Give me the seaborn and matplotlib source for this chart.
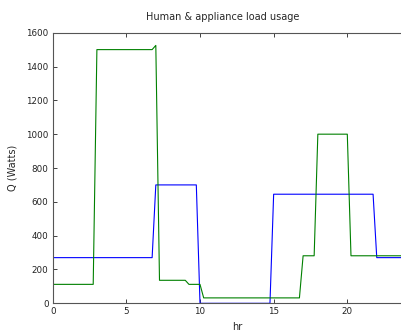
import matplotlib
matplotlib.use("Agg")
import matplotlib.pyplot as plt
import seaborn as sns
import pandas as pd

# Corner points of the hourly load profiles (hour, watts)
appliance_hr = [0, 2.75, 3.0, 6.75, 7.0, 7.25, 9.0, 9.25, 10.0, 10.25,
                16.75, 17.0, 17.75, 18.0, 20.0, 20.25, 23.75]
appliance_q = [112, 112, 1500, 1500, 1525, 136, 136, 112, 112, 32,
               32, 281, 281, 1000, 1000, 281, 281]

human_hr = [0, 6.75, 7.0, 9.75, 10.0, 14.75, 15.0, 21.75, 22.0, 23.75]
human_q = [270, 270, 700, 700, 0, 0, 645, 645, 270, 270]

x_ticks = [0, 5, 10, 15, 20]
y_ticks = [0, 200, 400, 600, 800, 1000, 1200, 1400, 1600]

df = pd.concat([
    pd.DataFrame({"hr": human_hr, "Q": human_q, "load": "human"}),
    pd.DataFrame({"hr": appliance_hr, "Q": appliance_q, "load": "appliance"}),
], ignore_index=True)

sns.set_style("ticks")
plt.rcParams["font.family"] = ["DejaVu Sans"]

W, H = 401, 335
fig = plt.figure(figsize=(W / 100, H / 100), dpi=100)
left, bottom = 52.7 / W, 31.7 / H
x_per_hr = 14.73
width = 25 * x_per_hr / W
height = (303.3 - 32.7) / H
ax = fig.add_axes([left, bottom, width, height])

sns.lineplot(data=df, x="hr", y="Q", hue="load",
             palette={"human": "#0000ff", "appliance": "#008000"},
             hue_order=["human", "appliance"],
             linewidth=0.8, legend=False, ax=ax, estimator=None, sort=False)

ax.set_xlim(0, 25)
ax.set_ylim(0, 1600)
ax.set_xticks(x_ticks)
ax.set_yticks(y_ticks)
ax.tick_params(direction="in", length=3, width=0.6, labelsize=6.3,
               top=True, right=True, pad=3, colors="#222222")
for s in ax.spines.values():
    s.set_linewidth(0.8)
    s.set_color("#555555")

ax.set_xlabel("hr", fontsize=7, labelpad=4)
ax.set_ylabel("Q (Watts)", fontsize=7, labelpad=6)
title_x = (222.5 - 52.7) / (25 * x_per_hr)
ax.set_title("Human & appliance load usage", fontsize=7, x=title_x, pad=9)

fig.savefig("out.png", dpi=100)
